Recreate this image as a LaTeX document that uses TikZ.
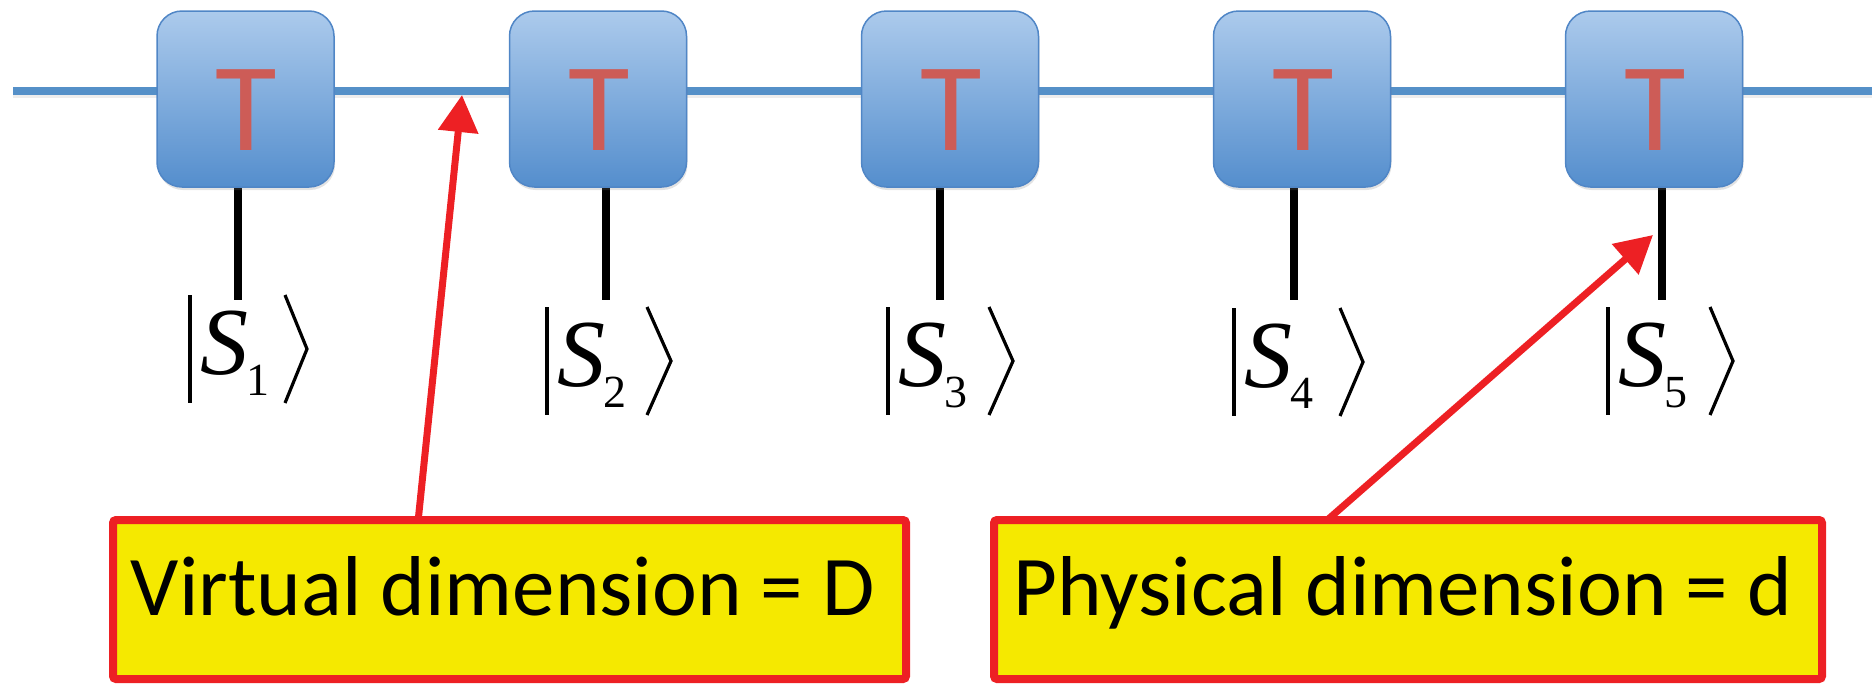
\documentclass[tikz,border=0pt]{standalone}
\usepackage{fontspec}
\setmainfont{Carlito}
\newfontfamily\ketfont{Liberation Serif}
\newfontfamily\ketitfont{Liberation Serif Italic}
\usetikzlibrary{arrows.meta,shadows}

\definecolor{chainblue}{RGB}{85,144,200}
\definecolor{boxtop}{RGB}{172,202,236}
\definecolor{boxbot}{RGB}{84,142,205}
\definecolor{boxedge}{RGB}{80,134,198}
\definecolor{tred}{RGB}{205,92,87}
\definecolor{callred}{RGB}{237,32,36}
\definecolor{callyellow}{RGB}{245,233,0}

\tikzset{
  chain/.style={draw=chainblue, line width=8pt},
  chainshadow/.style={draw=black, opacity=0.07, line width=8pt},
  leg/.style={draw=black, line width=8pt},
  tensor/.style={draw=boxedge, line width=1.5pt, rounded corners=25pt,
    top color=boxtop, bottom color=boxbot,
    minimum width=177pt, minimum height=176pt, inner sep=0pt,
    drop shadow={shadow xshift=1pt, shadow yshift=-3pt, opacity=0.22}},
  tletter/.style={text=tred, font=\fontsize{126}{130}\selectfont, inner sep=0pt},
  ketS/.style={font=\ketitfont\fontsize{96}{100}\selectfont, inner sep=0pt},
  ketsub/.style={font=\ketfont\fontsize{46}{50}\selectfont, inner sep=0pt},
  ketline/.style={draw=black, line width=3.2pt},
  pointer/.style={draw=callred, line width=7pt,
    -{Triangle[length=37pt,width=39pt]}},
  callout/.style={draw=callred, line width=8pt, fill=callyellow,
    rounded corners=3pt, inner sep=0pt,
    drop shadow={shadow xshift=2pt, shadow yshift=-2pt, opacity=0.2}},
  calltext/.style={font=\fontsize{85}{90}\selectfont, inner sep=0pt}
}

\begin{document}
\begin{tikzpicture}[x=1pt,y=-1pt]
  \useasboundingbox (0,0) rectangle (1872,683);

  % the bond line of the chain
  \coordinate (lend) at (13,91);
  \coordinate (rend) at (1872,91);
  \draw[chainshadow] ([yshift=-3pt]lend) -- ([yshift=-3pt]rend);
  \draw[chain] (lend) -- (rend);

  % physical legs
  \foreach \i/\x in {1/238, 2/606, 3/940, 4/1294, 5/1662}{
    \coordinate (lt\i) at (\x,150);
    \coordinate (lb\i) at (\x,300);
    \draw[leg] (lt\i) -- (lb\i);
  }

  % tensors
  \foreach \i/\x in {1/245.5, 2/598, 3/950, 4/1302, 5/1654}{
    \node[tensor] (T\i) at (\x,99) {};
    \node[tletter, anchor=base] (t\i) at (\x+1,150) {T};
  }

  % kets |S_i>
  \foreach \i/\L/\T/\a/\b in {1/190/295/95/117, 2/547/307/100/124,
                              3/888/307/101/125, 4/1234/308/106/129,
                              5/1608/307/102/125}{
    \node[ketS, anchor=base west] (s\i) at (\L+10,\T+79) {S};
    \node[ketsub, anchor=base west] (n\i) at ([xshift=-2pt,yshift=-21pt]s\i.base east) {\i};
    \draw[ketline] (\L,\T) -- (\L,\T+108);
    \draw[ketline, line join=miter] (\L+\a,\T) -- (\L+\b,\T+54) -- (\L+\a,\T+108);
  }

  % pointers
  \coordinate (vfoot) at (418,522);
  \coordinate (vtip) at (462,95);
  \coordinate (pfoot) at (1325,522);
  \coordinate (ptip) at (1653,235);
  \draw[pointer] (vfoot) -- (vtip);
  \draw[pointer] (pfoot) -- (ptip);

  % callouts
  \node[callout, minimum width=793pt, minimum height=159pt] (vbox) at (509.5,599.5) {};
  \node[calltext, anchor=base] (vtext) at (503,615) {Virtual dimension = D};
  \node[callout, minimum width=828pt, minimum height=159pt] (pbox) at (1408,599.5) {};
  \node[calltext, anchor=base] (ptext) at (1403,615) {Physical dimension = d};
\end{tikzpicture}
\end{document}
